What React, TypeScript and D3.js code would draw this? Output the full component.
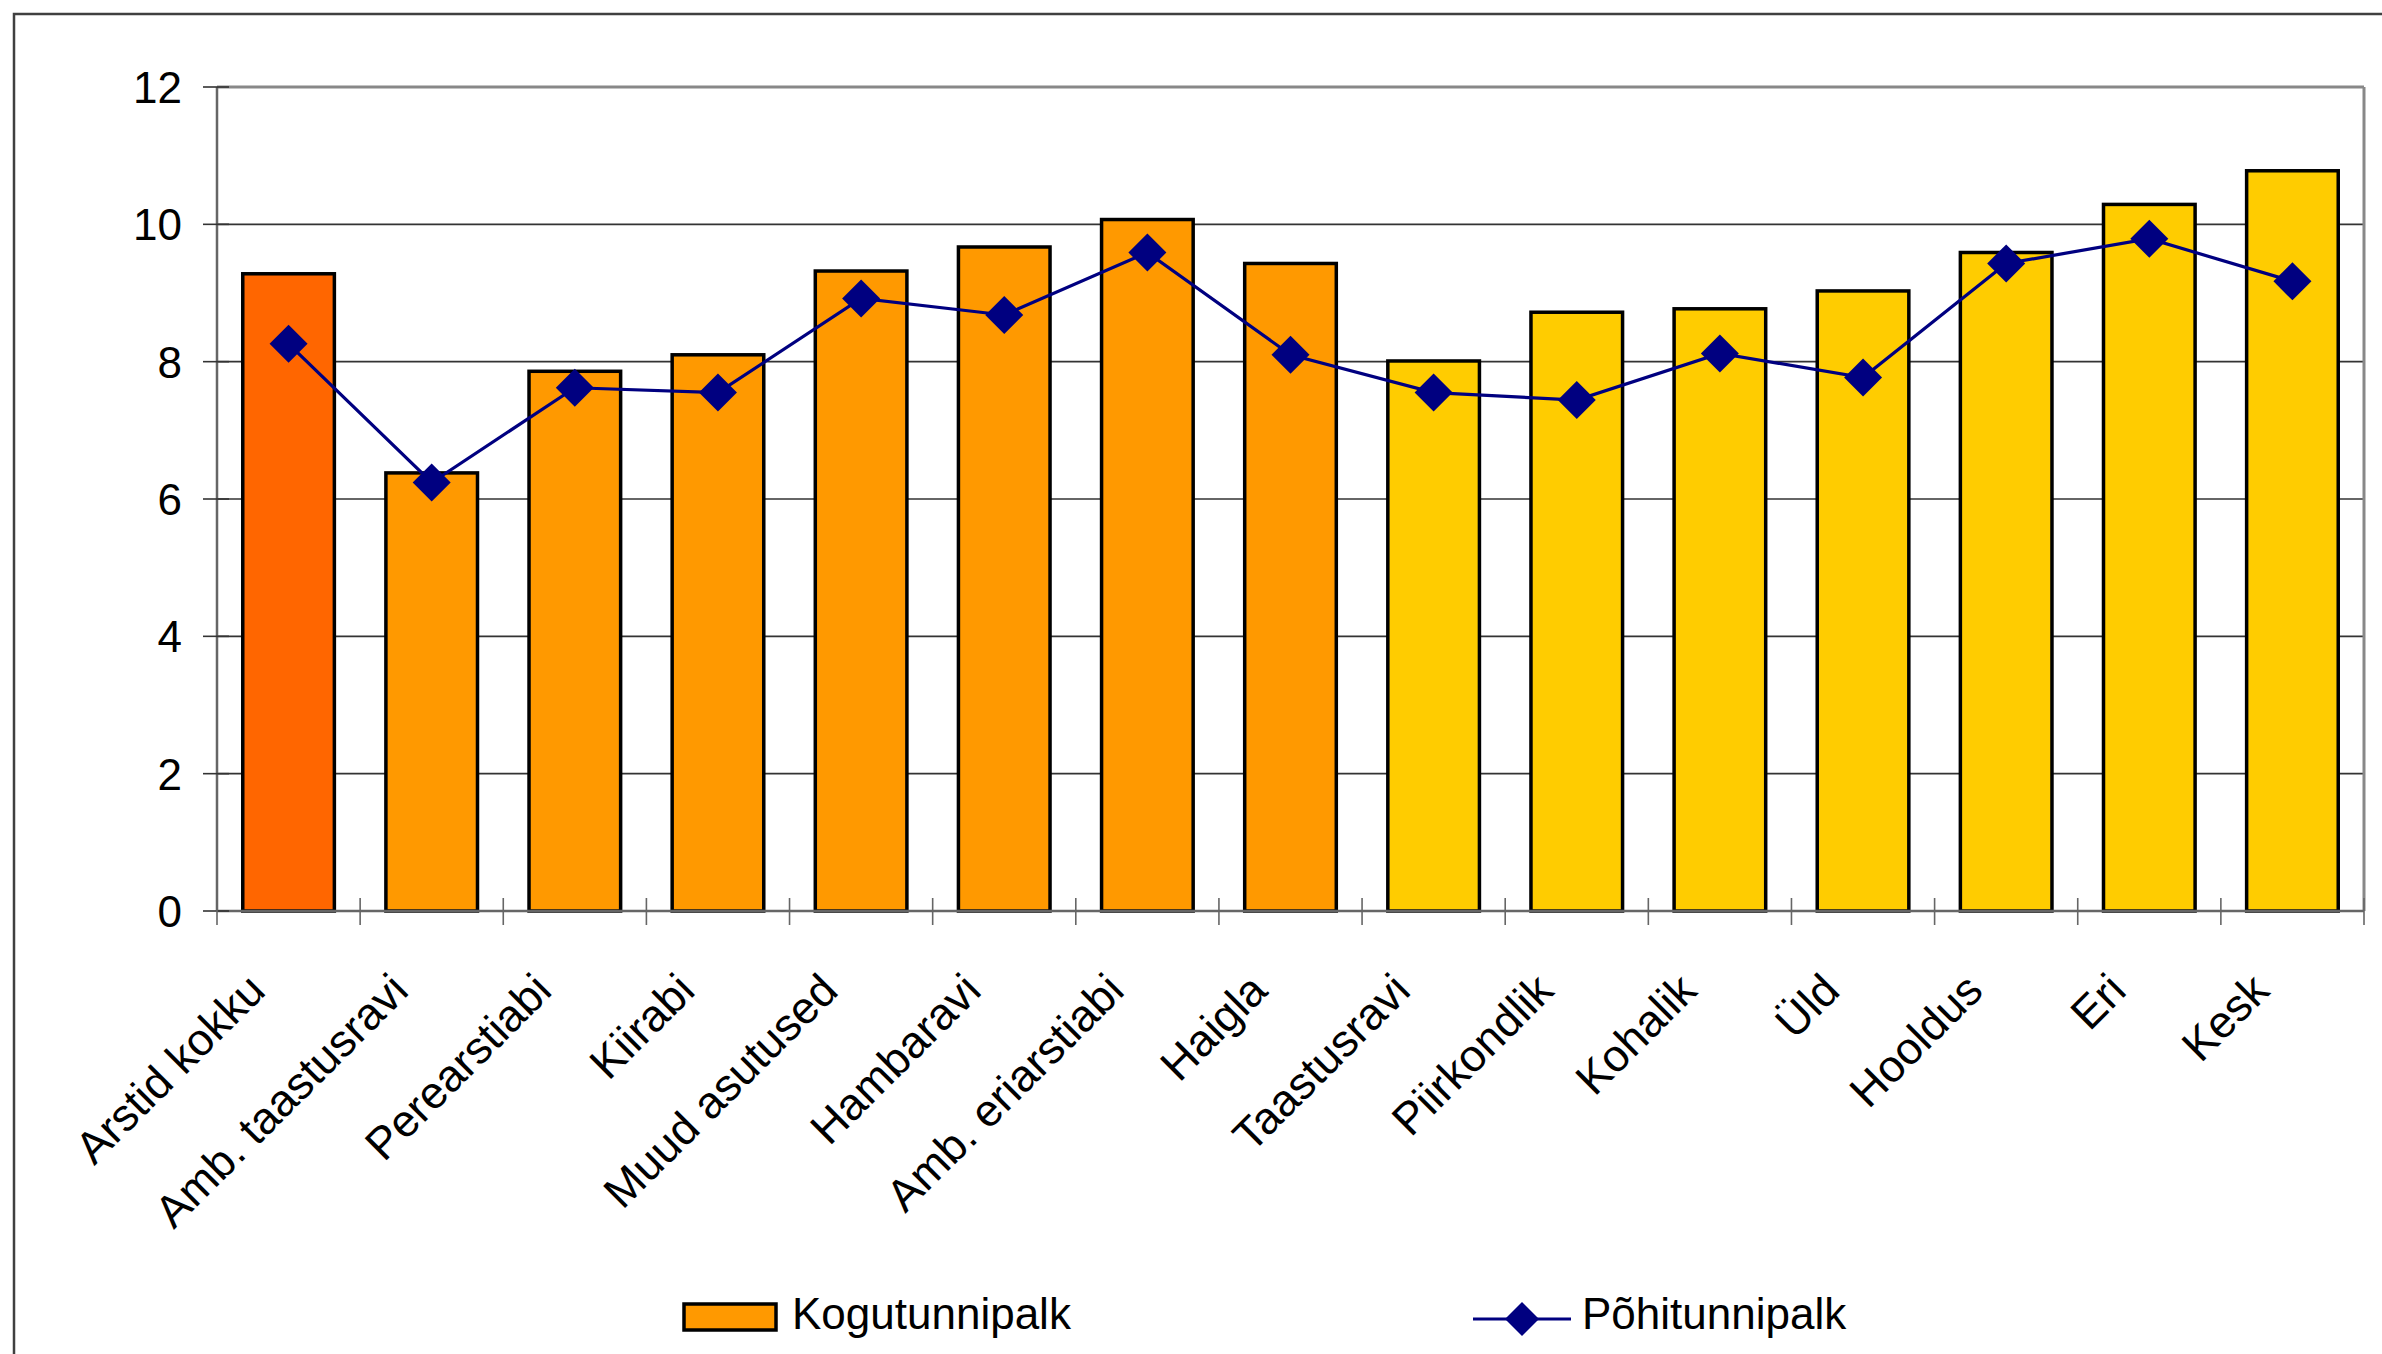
import React from "react";
import * as d3 from "d3";

const categories = [
  "Arstid kokku",
  "Amb. taastusravi",
  "Perearstiabi",
  "Kiirabi",
  "Muud asutused",
  "Hambaravi",
  "Amb. eriarstiabi",
  "Haigla",
  "Taastusravi",
  "Piirkondlik",
  "Kohalik",
  "Üld",
  "Hooldus",
  "Eri",
  "Kesk",
];
const kogutunnipalk = [9.28, 6.38, 7.86, 8.1, 9.32, 9.67, 10.07, 9.43, 8.01, 8.72, 8.77, 9.03, 9.59, 10.29, 10.78];
const pohitunnipalk = [8.26, 6.24, 7.62, 7.55, 8.92, 8.68, 9.59, 8.1, 7.55, 7.44, 8.12, 7.77, 9.43, 9.79, 9.17];
const barGroups = ["total", "sector", "sector", "sector", "sector", "sector", "sector", "sector", "hosp", "hosp", "hosp", "hosp", "hosp", "hosp", "hosp"];
const yTicks = [0, 2, 4, 6, 8, 10, 12];
const legendLabels = ["Kogutunnipalk", "Põhitunnipalk"];

const W = 2382;
const H = 1354;
const plot = { left: 217, right: 2364, top: 87, bottom: 911 };
const FONT = "'Liberation Sans', Arial, sans-serif";
const groupColor: Record<string, string> = { total: "#FF6600", sector: "#FF9900", hosp: "#FFCC00" };
const lineColor = "#000080";

export default function App() {
  const x = d3.scaleBand<string>().domain(categories).range([plot.left, plot.right]).paddingInner(0.36).paddingOuter(0.18);
  const xb = d3.scaleBand<string>().domain(categories).range([plot.left, plot.right]);
  const y = d3.scaleLinear().domain([0, 12]).range([plot.bottom, plot.top]);
  const cx = (c: string) => (xb(c) as number) + xb.bandwidth() / 2;
  const linePath = d3
    .line<number>()
    .x((_, i) => cx(categories[i]))
    .y((d) => y(d))(pohitunnipalk) as string;
  const diamond = (px: number, py: number, r: number) => `M${px},${py - r}L${px + r},${py}L${px},${py + r}L${px - r},${py}Z`;
  const boundaries = categories.map((c) => xb(c) as number).concat([plot.right]);

  return (
    <svg width={W} height={H} style={{ position: "absolute", left: 0, top: 0, background: "#fff" }} fontFamily={FONT}>
      <rect x={0} y={0} width={W} height={H} fill="#fff" />
      <rect x={14} y={14} width={W + 20} height={H + 20} fill="none" stroke="#404040" strokeWidth={2.5} />
      {/* gridlines */}
      {yTicks.filter((t) => t > 0 && t < 12).map((t) => (
        <line key={t} x1={plot.left} x2={plot.right} y1={y(t)} y2={y(t)} stroke="#333" strokeWidth={1.6} />
      ))}
      <line x1={plot.left} x2={plot.right} y1={y(12)} y2={y(12)} stroke="#888" strokeWidth={3} />
      <line x1={plot.right} x2={plot.right} y1={y(12)} y2={plot.bottom} stroke="#888" strokeWidth={3} />
      {/* bars */}
      {categories.map((c, i) => (
        <rect
          key={c}
          x={x(c)}
          y={y(kogutunnipalk[i])}
          width={x.bandwidth()}
          height={y(0) - y(kogutunnipalk[i])}
          fill={groupColor[barGroups[i]]}
          stroke="#000"
          strokeWidth={3.5}
        />
      ))}
      {/* axes */}
      <line x1={plot.left} x2={plot.left} y1={plot.top} y2={plot.bottom} stroke="#666" strokeWidth={2.5} />
      <line x1={plot.left} x2={plot.right} y1={plot.bottom} y2={plot.bottom} stroke="#666" strokeWidth={2.5} />
      {yTicks.map((t) => (
        <g key={t}>
          <line x1={plot.left - 14} x2={plot.left + 12} y1={y(t)} y2={y(t)} stroke="#333" strokeWidth={1.6} />
          <text x={182} y={y(t)} dy="0.36em" textAnchor="end" fontSize={44} fill="#000">
            {t}
          </text>
        </g>
      ))}
      {boundaries.map((b, i) => (
        <line key={i} x1={b} x2={b} y1={plot.bottom - 13} y2={plot.bottom + 14} stroke="#666" strokeWidth={1.6} />
      ))}
      {categories.map((c) => {
        const ax = cx(c) - 21;
        const ay = 993;
        return (
          <text key={c} x={ax} y={ay} transform={`rotate(-45 ${ax} ${ay})`} textAnchor="end" fontSize={45} fill="#000">
            {c}
          </text>
        );
      })}
      {/* line series */}
      <path d={linePath} fill="none" stroke={lineColor} strokeWidth={3.2} />
      {pohitunnipalk.map((v, i) => (
        <path key={i} d={diamond(cx(categories[i]), y(v), 19)} fill={lineColor} />
      ))}
      {/* legend */}
      <rect x={684} y={1304} width={92} height={26} fill="#FF9900" stroke="#000" strokeWidth={3.5} />
      <text x={792} y={1329} fontSize={44} fill="#000">{legendLabels[0]}</text>
      <line x1={1473} x2={1571} y1={1319} y2={1319} stroke={lineColor} strokeWidth={3.2} />
      <path d={diamond(1522, 1319, 17)} fill={lineColor} />
      <text x={1582} y={1329} fontSize={44} fill="#000">{legendLabels[1]}</text>
    </svg>
  );
}
